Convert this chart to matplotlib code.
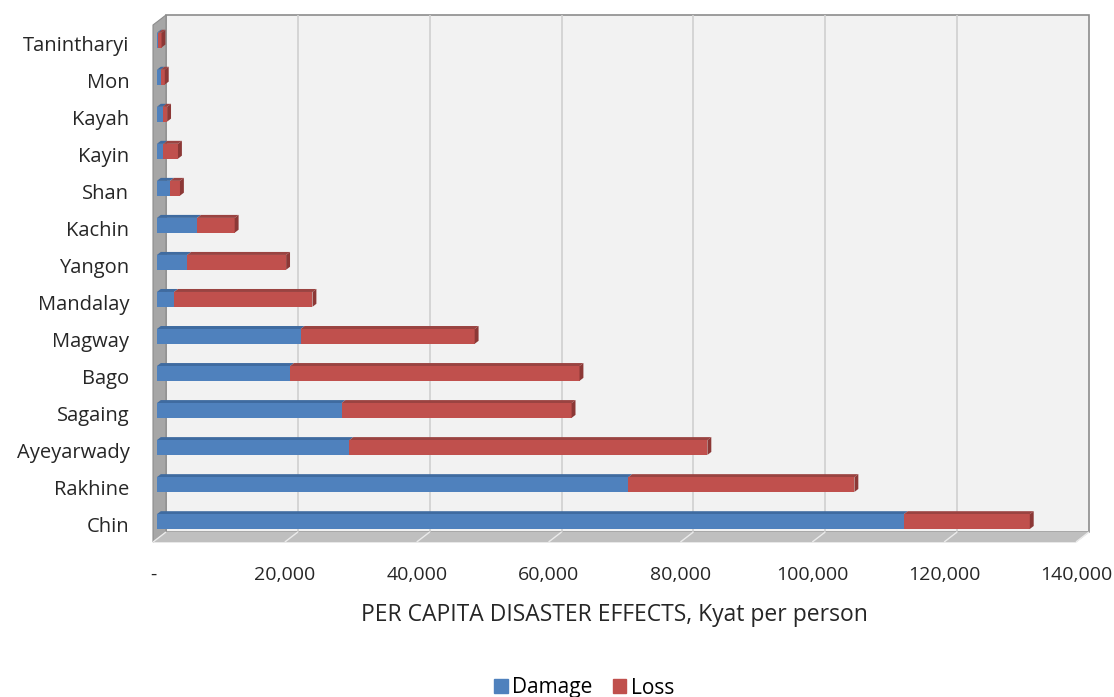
import matplotlib
matplotlib.use('Agg')
import matplotlib.pyplot as plt
from matplotlib.patches import Polygon, Rectangle

regions = ['Chin', 'Rakhine', 'Ayeyarwady', 'Sagaing', 'Bago', 'Magway', 'Mandalay',
           'Yangon', 'Kachin', 'Shan', 'Kayin', 'Kayah', 'Mon', 'Tanintharyi']
damage = [113300, 71500, 29200, 28000, 20200, 21800, 2600,
          4600, 6100, 2000, 1000, 850, 550, 200]
loss = [19100, 34300, 54300, 34900, 43900, 26400, 21000,
        15000, 5700, 1500, 2200, 700, 650, 500]

x_ticks = [0, 20000, 40000, 60000, 80000, 100000, 120000, 140000]
x_ticklabels = ['-', '20,000', '40,000', '60,000', '80,000', '100,000', '120,000', '140,000']

plt.rcParams['font.family'] = ['Open Sans', 'DejaVu Sans']

BLUE = ('#4f81bd', '#3f6ba0', '#385d8a')
RED = ('#c0504d', '#9a4341', '#8c3836')

DEPTH = (13.0, 10.0)   # full depth of the box, in pixels
BAR_Z = (0.3, 0.6)     # bars sit in the middle of the depth
BAR_H = 0.4
TXT = '#262626'


def main():
	fig = plt.figure(figsize=(11.14, 6.97), dpi=100)
	W, H = 1114.0, 697.0
	ax = fig.add_axes([153 / W, (H - 542) / H, 923 / W, (542 - 25) / H])
	ax.set_xlim(0, 140000)
	ax.set_ylim(-0.47, 13.49)
	ax.set_facecolor('none')
	for s in ax.spines.values():
		s.set_visible(False)

	fwd = ax.transData.transform
	inv = ax.transData.inverted().transform

	def pt(x, y, z):
		px, py = fwd((x, y))
		return inv((px + DEPTH[0] * z, py + DEPTH[1] * z))

	def poly(verts, **kw):
		ax.add_patch(Polygon(verts, closed=True, clip_on=False, **kw))

	def seg(a, b, **kw):
		ax.plot([a[0], b[0]], [a[1], b[1]], clip_on=False, solid_capstyle='butt', **kw)

	x0, x1 = ax.get_xlim()
	y0, y1 = ax.get_ylim()

	# back wall with gridlines
	poly([pt(x0, y0, 1), pt(x1, y0, 1), pt(x1, y1, 1), pt(x0, y1, 1)],
	     facecolor='#f2f2f2', edgecolor='#8c8c8c', lw=1.2, zorder=0)
	for t in x_ticks[1:-1]:
		seg(pt(t, y0, 1), pt(t, y1, 1), color='#d0d0d0', lw=1.2, zorder=1)

	# left wall
	poly([pt(x0, y0, 0), pt(x0, y0, 1), pt(x0, y1, 1), pt(x0, y1, 0)],
	     facecolor='#a6a6a6', edgecolor='#8c8c8c', lw=0.8, zorder=2)

	# floor
	poly([pt(x0, y0, 0), pt(x1, y0, 0), pt(x1, y0, 1), pt(x0, y0, 1)],
	     facecolor='#bfbfbf', edgecolor='#bfbfbf', lw=0.5, zorder=2)
	for t in x_ticks:
		seg(pt(t, y0, 0), pt(t, y0, 1), color='#ebebeb', lw=1.0, zorder=3)

	# stacked 3d bars, drawn from the top row down so lower rows overlap
	za, zb = BAR_Z
	for i in range(len(regions) - 1, -1, -1):
		parts = [(0, damage[i], BLUE), (damage[i], damage[i] + loss[i], RED)]
		yb, yt = i - BAR_H / 2, i + BAR_H / 2
		for k, (s, e, col) in enumerate(parts):
			poly([pt(s, yt, za), pt(e, yt, za), pt(e, yt, zb), pt(s, yt, zb)],
			     facecolor=col[1], edgecolor='none', zorder=5)
			poly([pt(s, yb, za), pt(e, yb, za), pt(e, yt, za), pt(s, yt, za)],
			     facecolor=col[0], edgecolor='none', zorder=6)
			if k == len(parts) - 1:
				poly([pt(e, yb, za), pt(e, yb, zb), pt(e, yt, zb), pt(e, yt, za)],
				     facecolor=col[2], edgecolor='none', zorder=6)

	ax.set_yticks(range(len(regions)))
	ax.set_yticklabels(regions, fontsize=14.5, color=TXT)
	ax.set_xticks(x_ticks)
	ax.set_xticklabels(x_ticklabels, fontsize=14, color=TXT)
	ax.tick_params(axis='both', length=0)
	ax.tick_params(axis='y', pad=17)
	ax.tick_params(axis='x', pad=17)
	ax.set_xlabel('PER CAPITA DISASTER EFFECTS, Kyat per person', fontsize=16.5, color=TXT, labelpad=14)

	handles = [Rectangle((0, 0), 1, 1, color=BLUE[0]), Rectangle((0, 0), 1, 1, color=RED[0])]
	fig.legend(handles, ['Damage', 'Loss'], loc='center', bbox_to_anchor=(584 / W, 9 / H), ncol=2,
	           frameon=False, fontsize=15, handlelength=0.65, handleheight=0.65,
	           handletextpad=0.2, columnspacing=1.0, borderpad=0)

	fig.savefig('out.png', dpi=100, facecolor='white')


if __name__ == '__main__':
	main()
